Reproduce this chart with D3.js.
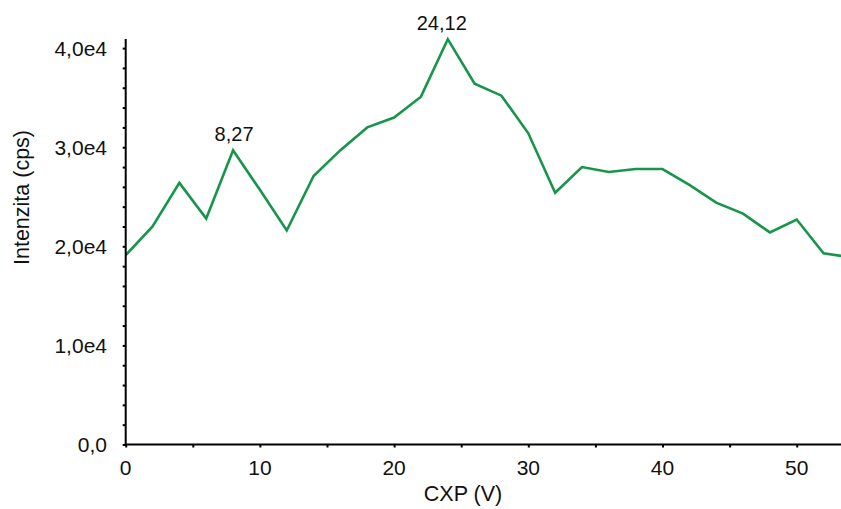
<!DOCTYPE html>
<html>
<head>
<meta charset="utf-8">
<script src="https://cdn.jsdelivr.net/npm/d3@7"></script>
<style>
  html, body { margin: 0; padding: 0; background: #fff; }
  svg { display: block; font-family: "Liberation Sans", Arial, sans-serif; }
</style>
</head>
<body>
<svg id="chart" width="841" height="509"></svg>
<script>
// CXP ramp: intensity (cps) versus cell exit potential (V)
const cxp = [0, 2, 4, 6, 8, 10, 12, 14, 16, 18, 20, 22, 24, 26, 28, 30, 32, 34, 36, 38, 40, 42, 44, 46, 48, 50, 52, 54];
const intensity = [19100, 22000, 26400, 22800, 29700, 25700, 21600, 27100, 29700, 32000, 33000, 35100, 40900, 36400,
                   35200, 31400, 25400, 28000, 27500, 27800, 27800, 26200, 24400, 23300, 21400, 22700, 19300, 18900];

// Apex annotations
const peakX = [8, 24];
const peakText = ["8,27", "24,12"];

const xTicks = [0, 10, 20, 30, 40, 50];
const yTicks = [0, 10000, 20000, 30000, 40000];
const yTickLabels = ["0,0", "1,0e4", "2,0e4", "3,0e4", "4,0e4"];

const svg = d3.select("#chart");
const plotLeft = 125.7, plotRight = 841, plotTop = 39, plotBottom = 444.5;

const x = d3.scaleLinear().domain([0, 53.3]).range([plotLeft, plotRight]);
const y = d3.scaleLinear().domain([0, 40920]).range([plotBottom, plotTop]);

const green = "#17954a";

// Line, clipped to the plot area
svg.append("clipPath").attr("id", "plotclip")
  .append("rect").attr("x", plotLeft).attr("y", 0).attr("width", plotRight - plotLeft).attr("height", plotBottom);

const pts = cxp.map((c, i) => [c, intensity[i]]);
svg.append("path")
  .datum(pts)
  .attr("clip-path", "url(#plotclip)")
  .attr("fill", "none")
  .attr("stroke", green)
  .attr("stroke-width", 2.6)
  .attr("stroke-linejoin", "miter")
  .attr("d", d3.line().x(d => x(d[0])).y(d => y(d[1])));

// Y axis: major ticks with labels, minor ticks every 2000
const yAxis = svg.append("g").attr("transform", `translate(${plotLeft},0)`)
  .call(d3.axisLeft(y).tickValues(d3.range(0, 41000, 2000)).tickSize(3).tickFormat(() => ""));
yAxis.select(".domain").attr("stroke", "#000").attr("stroke-width", 2)
  .attr("d", `M0,${plotBottom}V${plotTop}`);
yAxis.selectAll(".tick line").attr("stroke", "#000").attr("stroke-width", 2);

svg.append("g").selectAll("text").data(yTicks).join("text")
  .attr("x", 107).attr("y", d => y(d) + 7.5)
  .attr("text-anchor", "end")
  .attr("font-size", 21)
  .attr("fill", "#111")
  .text((d, i) => yTickLabels[i]);

// X axis: labels every 10, minor ticks every 5
const xAxis = svg.append("g").attr("transform", `translate(0,${plotBottom})`)
  .call(d3.axisBottom(x).tickValues(d3.range(0, 55, 5)).tickSize(3).tickFormat(() => ""));
xAxis.select(".domain").attr("stroke", "#000").attr("stroke-width", 2)
  .attr("d", `M${plotLeft - 1},0H${plotRight}`);
xAxis.selectAll(".tick line").attr("stroke", "#000").attr("stroke-width", 2);

svg.append("g").selectAll("text").data(xTicks).join("text")
  .attr("x", d => x(d)).attr("y", 475)
  .attr("text-anchor", "middle")
  .attr("font-size", 21)
  .attr("fill", "#111")
  .text(d => d);

// Axis titles
svg.append("text")
  .attr("x", 463).attr("y", 501)
  .attr("text-anchor", "middle")
  .attr("font-size", 21.5)
  .attr("fill", "#111")
  .text("CXP (V)");

svg.append("text")
  .attr("transform", "translate(28.5,197.5) rotate(-90)")
  .attr("text-anchor", "middle")
  .attr("font-size", 21.5)
  .attr("fill", "#111")
  .text("Intenzita (cps)");

// Apex labels above the two maxima
svg.append("g").selectAll("text").data(peakX).join("text")
  .attr("x", d => x(d))
  .attr("dx", (d, i) => (i === 1 ? -6 : 1))
  .attr("y", d => y(intensity[cxp.indexOf(d)]) - 9)
  .attr("text-anchor", "middle")
  .attr("font-size", 20)
  .attr("fill", "#111")
  .text((d, i) => peakText[i]);
</script>
</body>
</html>
